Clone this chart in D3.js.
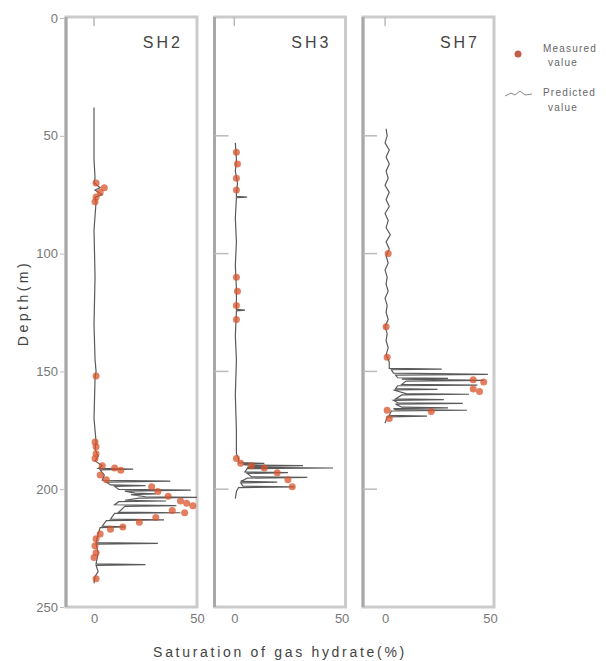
<!DOCTYPE html>
<html>
<head>
<meta charset="utf-8">
<title>Saturation of gas hydrate</title>
<script src="https://d3js.org/d3.v7.min.js"></script>
<style>
  body { margin: 0; background: #fff; }
  svg { font-family: "Liberation Sans", Arial, sans-serif; }
  .tick text { fill: #777; font-size: 13px; }
</style>
</head>
<body>
<svg id="chart" width="606" height="661"></svg>
<script>
// data: [depth (m), saturation (%)]
const sites = ["SH2", "SH3", "SH7"];
const depthTicks = [0, 50, 100, 150, 200, 250];
const satTicks = [0, 50];
const satDomains = [[-13.6, 50], [-9.2, 51.8], [-10.5, 51.9]];

const sh2Predicted = [
  [38, 0], [60, 0], [68, 0.5], [70, 0], [72, 3], [73, 0.5], [75, 4], [76, 0.5], [78, 1],
  [90, 0], [110, 0.5], [130, 0], [145, 0.5], [150, 1], [153, 0.5], [170, 0], [180, 1],
  [183, 0.5], [186, 2], [188, 0.5], [190, 4],
  [191.2, 2], [191.5, 19], [191.8, 3], [194, 5], [196.2, 4], [196.6, 37], [197, 6],
  [198.2, 8], [198.5, 25], [198.8, 10], [200.1, 12], [200.4, 47], [200.8, 15],
  [201.7, 20], [202, 30], [202.3, 18], [203.2, 25], [203.5, 50], [203.8, 22],
  [204.7, 15], [205, 35], [205.3, 12], [206.6, 10], [207, 40], [207.3, 15],
  [209.7, 12], [210, 42], [210.3, 10], [212.7, 8], [213, 34], [213.3, 6],
  [215.7, 4], [216, 15], [216.3, 3], [219, 2], [222.7, 1], [223, 31], [223.3, 1],
  [227, 2], [231.7, 1], [232, 25], [232.3, 1], [235, 2], [237, 0.5], [240, 0]
];
const sh2Measured = [
  [70, 1], [72, 5], [74, 3], [76, 1], [78, 0.5], [152, 1], [180, 0.5], [182, 1], [185, 1],
  [187, 0.5], [190, 4], [191, 10], [192, 13], [194, 3], [196, 6], [199, 28], [201, 31],
  [203, 36], [205, 42], [206, 45], [207, 48], [209, 38], [210, 44], [212, 30], [214, 22],
  [216, 14], [217, 8], [219, 3], [221, 1], [224, 0.5], [227, 1], [229, 0], [238, 1]
];

const sh3Predicted = [
  [53, 0.5], [60, 1], [65, 0.5], [70, 1.5], [75, 1], [75.7, 1], [76, 6], [76.3, 1],
  [85, 0.5], [95, 1], [105, 0.5], [115, 1], [123.7, 1], [124, 5], [124.3, 1], [135, 0.5],
  [145, 1], [160, 0.5], [175, 1], [185, 1], [187, 2],
  [188.7, 2], [189, 14], [189.3, 4], [189.7, 5], [190, 32], [190.3, 8], [190.7, 6],
  [191, 46], [191.3, 6], [192.7, 5], [193, 25], [193.3, 6], [194.7, 8], [195, 34],
  [195.3, 6], [196.7, 3], [197, 20], [197.3, 3], [198.7, 4], [199, 28], [199.3, 2],
  [201, 1], [204, 0.5]
];
const sh3Measured = [
  [57, 1], [62, 1.5], [68, 1], [73, 1], [110, 1], [116, 1.5], [122, 1], [128, 1], [187, 1],
  [189, 3], [190, 8], [191, 14], [193, 20], [196, 25], [199, 27]
];

const sh7Predicted = [
  [47, 0.5], [50, 1], [53, 0], [56, 2], [59, 0.5], [62, 2], [65, 0.5], [68, 1.5], [71, 0],
  [74, 2], [77, 0.5], [80, 2], [83, 0], [86, 1.5], [89, 0.5], [92, 2.5], [95, 0.5], [98, 2],
  [101, 0.5], [104, 1.5], [107, 0], [110, 1], [113, 0.5], [116, 1.5], [119, 0], [122, 1],
  [125, 0.5], [128, 1.5], [131, 0], [134, 1], [137, 0.5], [140, 1.5], [143, 0.5], [146, 2],
  [148.7, 2], [149, 27], [149.3, 3], [150.7, 4], [151, 32], [151.3, 49], [151.6, 5],
  [152.7, 6], [153, 30], [153.3, 8], [153.8, 47], [154.1, 10], [155.5, 8], [155.8, 44],
  [156.1, 6], [157.3, 5], [157.6, 25], [157.9, 4], [159.4, 10], [159.7, 40], [160, 8],
  [161.7, 5], [162, 28], [162.3, 4], [163.3, 6], [163.6, 37], [163.9, 5], [165.2, 8],
  [165.5, 30], [165.8, 4], [166.2, 5], [166.5, 39], [166.8, 3], [168.7, 2], [169, 20],
  [169.3, 1], [172, 0]
];
const sh7Measured = [
  [100, 1.5], [131, 0.5], [144, 1], [153.5, 42], [154.5, 47], [157.5, 42], [158.5, 45],
  [166.5, 1], [167, 22], [170, 2]
];

const predicted = [sh2Predicted, sh3Predicted, sh7Predicted];
const measured = [sh2Measured, sh3Measured, sh7Measured];

// layout
const svg = d3.select("#chart");
const plotTop = 17, plotBottom = 607;
const panel = d3.scaleBand().domain(sites).range([66, 494]).paddingInner(0.118);
const y = d3.scaleLinear().domain([0, 250]).range([plotTop + 1, plotBottom]);

sites.forEach(function(site, i) {
  const left = panel(site), right = left + panel.bandwidth();
  const x = d3.scaleLinear().domain(satDomains[i]).range([left, right]);
  const g = svg.append("g");

  // frame
  g.append("rect")
    .attr("x", left).attr("y", plotTop)
    .attr("width", right - left).attr("height", plotBottom - plotTop)
    .attr("fill", "none").attr("stroke", "#cbcbcb").attr("stroke-width", 3);
  g.append("line")
    .attr("x1", left).attr("x2", left).attr("y1", plotTop).attr("y2", plotBottom)
    .attr("stroke", "#a8a8a8").attr("stroke-width", 3);

  // depth axis
  if (i === 0) {
    const ax = g.append("g")
      .attr("transform", "translate(" + (left - 2) + ",0)")
      .call(d3.axisLeft(y).tickValues(depthTicks).tickSize(4).tickPadding(2));
    ax.select(".domain").remove();
    ax.selectAll(".tick line").attr("stroke", "#bbb");
  } else {
    g.selectAll(".ytick")
      .data(depthTicks.slice(1, -1))
      .enter().append("line")
        .attr("x1", left).attr("x2", left + 14)
        .attr("y1", function(d) { return y(d); })
        .attr("y2", function(d) { return y(d); })
        .attr("stroke", "#bbb").attr("stroke-width", 1.5);
  }

  // saturation axis
  const bx = g.append("g")
    .attr("transform", "translate(0," + (plotBottom + 2) + ")")
    .call(d3.axisBottom(x).tickValues(satTicks).tickSize(0).tickPadding(5));
  bx.select(".domain").remove();
  g.append("line")
    .attr("x1", x(0)).attr("x2", x(0)).attr("y1", plotTop).attr("y2", plotTop + 9)
    .attr("stroke", "#bbb").attr("stroke-width", 1.5);

  // site name
  g.append("text")
    .attr("x", right - 14).attr("y", 48)
    .attr("text-anchor", "end")
    .attr("font-size", 16).attr("letter-spacing", 3)
    .attr("fill", "#444")
    .text(site);

  // predicted
  const line = d3.line()
    .x(function(d) { return x(d[1]); })
    .y(function(d) { return y(d[0]); });
  g.append("path")
    .datum(predicted[i])
    .attr("d", line)
    .attr("fill", "none")
    .attr("stroke", "#5a5a5a")
    .attr("stroke-width", 1.2);

  // measured
  g.selectAll(".dot")
    .data(measured[i])
    .enter().append("circle")
      .attr("cx", function(d) { return x(d[1]); })
      .attr("cy", function(d) { return y(d[0]); })
      .attr("r", 3.5)
      .attr("fill", "#d9542c")
      .attr("fill-opacity", 0.75);
});

// axis titles
svg.append("text")
  .attr("transform", "translate(28,303) rotate(-90)")
  .attr("text-anchor", "middle")
  .attr("font-size", 14).attr("letter-spacing", 3.5)
  .attr("fill", "#444")
  .text("Depth(m)");
svg.append("text")
  .attr("x", 280).attr("y", 657)
  .attr("text-anchor", "middle")
  .attr("font-size", 14).attr("letter-spacing", 2.7)
  .attr("fill", "#444")
  .text("Saturation of gas hydrate(%)");

// legend
const legend = svg.append("g").attr("font-size", 10).attr("fill", "#666").attr("letter-spacing", 1.2);
legend.append("circle").attr("cx", 518).attr("cy", 54).attr("r", 3.5)
  .attr("fill", "#b5432a").attr("fill-opacity", 0.85);
legend.append("text").attr("x", 543).attr("y", 52).text("Measured");
legend.append("text").attr("x", 548).attr("y", 66).text("value");
legend.append("path")
  .attr("d", d3.line()([[505, 96], [511, 93], [515, 95], [520, 91], [525, 95], [532, 94]]))
  .attr("fill", "none").attr("stroke", "#888").attr("stroke-width", 1);
legend.append("text").attr("x", 543).attr("y", 96).text("Predicted");
legend.append("text").attr("x", 548).attr("y", 111).text("value");
</script>
</body>
</html>
